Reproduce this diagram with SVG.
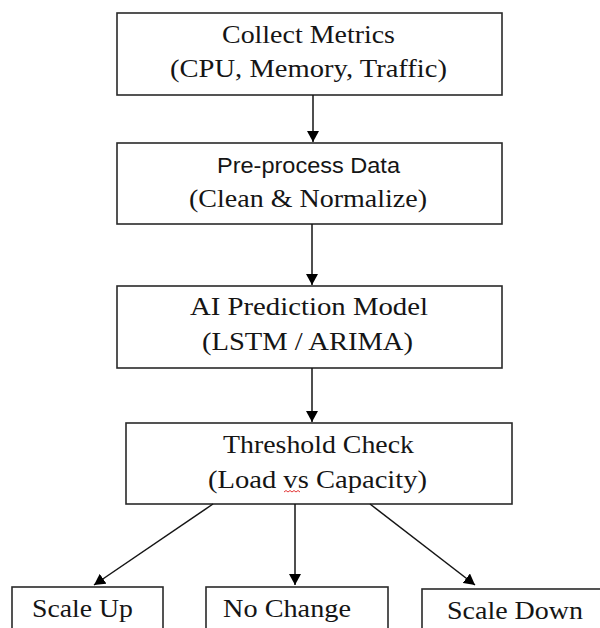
<svg xmlns="http://www.w3.org/2000/svg" width="600" height="628" viewBox="0 0 600 628">
<style>
.box{fill:#fff;stroke:#2a2a2a;stroke-width:1.6}
.t{font-family:"Liberation Serif","Times New Roman",serif;font-size:25.5px;fill:#151515}
.s{font-family:"Liberation Sans",Arial,sans-serif;font-size:21.5px;fill:#151515}
.c{stroke:#151515;stroke-width:1.5;fill:none}
</style>
<defs>
<marker id="ah" markerUnits="userSpaceOnUse" markerWidth="12" markerHeight="12" refX="11" refY="6" orient="auto">
<path d="M0,0 L11,6 L0,12 z" fill="#000"/>
</marker>
</defs>
<rect width="600" height="628" fill="#fff"/>
<g id="collect">
<rect class="box" x="117" y="13" width="385" height="82"/>
<text class="t" x="222" y="43" textLength="173" lengthAdjust="spacingAndGlyphs">Collect Metrics</text>
<text class="t" x="170" y="77" textLength="277" lengthAdjust="spacingAndGlyphs">(CPU, Memory, Traffic)</text>
</g>
<g id="preprocess">
<rect class="box" x="117" y="143" width="385" height="81"/>
<text class="s" x="217" y="173" textLength="183" lengthAdjust="spacingAndGlyphs">Pre-process Data</text>
<text class="t" x="189" y="207" textLength="238" lengthAdjust="spacingAndGlyphs">(Clean &amp; Normalize)</text>
</g>
<g id="model">
<rect class="box" x="117" y="286" width="385" height="82"/>
<text class="t" x="190" y="315" textLength="238" lengthAdjust="spacingAndGlyphs">AI Prediction Model</text>
<text class="t" x="202" y="350" textLength="211" lengthAdjust="spacingAndGlyphs">(LSTM / ARIMA)</text>
</g>
<g id="threshold">
<rect class="box" x="126" y="423" width="386" height="81"/>
<text class="t" x="223" y="453" textLength="191" lengthAdjust="spacingAndGlyphs">Threshold Check</text>
<text class="t" x="208" y="488" textLength="219" lengthAdjust="spacingAndGlyphs">(Load vs Capacity)</text>
<path d="M284,492 l2,-1.5 l2,1.5 l2,-1.5 l2,1.5 l2,-1.5 l2,1.5 l2,-1.5 l2,1.5" fill="none" stroke="#e02020" stroke-width="0.9"/>
</g>
<g id="scaleup">
<rect class="box" x="12" y="587" width="151" height="60"/>
<text class="t" x="32" y="617" textLength="101" lengthAdjust="spacingAndGlyphs">Scale Up</text>
</g>
<g id="nochange">
<rect class="box" x="206" y="587" width="182" height="60"/>
<text class="t" x="223" y="617" textLength="128" lengthAdjust="spacingAndGlyphs">No Change</text>
</g>
<g id="scaledown">
<rect class="box" x="422" y="589" width="190" height="60"/>
<text class="t" x="447" y="619" textLength="136" lengthAdjust="spacingAndGlyphs">Scale Down</text>
</g>
<g id="connectors">
<line class="c" x1="313" y1="95" x2="313" y2="142" marker-end="url(#ah)"/>
<line class="c" x1="312" y1="224" x2="312" y2="285" marker-end="url(#ah)"/>
<line class="c" x1="312" y1="368" x2="312" y2="422" marker-end="url(#ah)"/>
<line class="c" x1="213" y1="504" x2="94" y2="585" marker-end="url(#ah)"/>
<line class="c" x1="295" y1="504" x2="295" y2="585" marker-end="url(#ah)"/>
<line class="c" x1="370" y1="504" x2="475" y2="585" marker-end="url(#ah)"/>
</g>
</svg>
